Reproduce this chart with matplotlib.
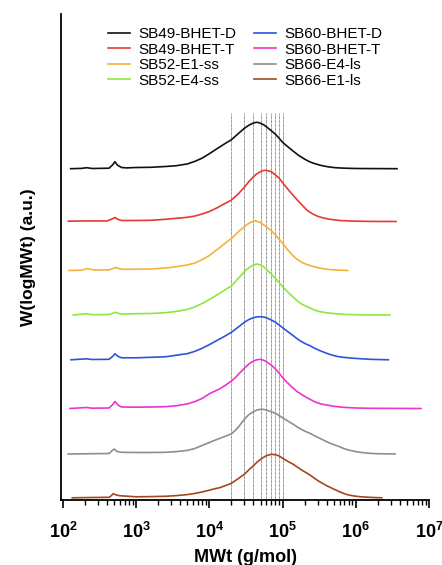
import numpy as np
import matplotlib
matplotlib.use("Agg")
import matplotlib.pyplot as plt
from matplotlib.ticker import LogLocator, FuncFormatter, NullFormatter

plt.rcParams.update({
    "font.family": ["Liberation Sans", "DejaVu Sans"],
    "mathtext.fontset": "custom",
    "mathtext.rm": "Liberation Sans",
    "mathtext.bf": "Liberation Sans:bold",
    "mathtext.it": "Liberation Sans:italic",
})

# ---- GPC traces: log10(MWt) and W(logMWt) in arbitrary units ----
labels = ["SB49-BHET-D", "SB49-BHET-T", "SB52-E1-ss", "SB52-E4-ss",
          "SB60-BHET-D", "SB60-BHET-T", "SB66-E4-ls", "SB66-E1-ls"]
colors = ["#111111", "#e43a34", "#f4b23a", "#8fe640",
          "#2d55d6", "#ee32cf", "#8e8e8e", "#a4461f"]

logmw_sb49_d = [2.105, 2.25, 2.324, 2.40, 2.63, 2.68, 2.71, 2.745, 2.80, 2.87, 3.0, 3.2, 3.4, 3.55,
                3.7, 3.8, 3.9, 4.0, 4.1, 4.2, 4.301, 4.40, 4.477, 4.54, 4.57, 4.602, 4.64, 4.67,
                4.699, 4.74, 4.778, 4.845, 4.903, 4.954, 5.0, 5.07, 5.146, 5.22, 5.30, 5.374,
                5.45, 5.53, 5.62, 5.72, 5.85, 6.0, 6.563]
w_sb49_d = [0.0, 0.3, 1.0, 0.2, 0.5, 4.0, 7.0, 3.5, 1.2, 0.8, 1.2, 1.4, 2.2, 3.0,
            4.8, 7.3, 10.5, 15.0, 19.8, 24.5, 29.0, 35.4, 40.4, 43.5, 44.6, 45.6, 46.4, 46.2,
            45.4, 44.0, 42.0, 38.0, 34.4, 30.4, 26.4, 22.0, 17.5, 13.3, 9.6, 6.8,
            4.8, 3.2, 1.9, 1.0, 0.5, 0.2, 0.0]

logmw_sb49_t = [2.072, 2.33, 2.60, 2.67, 2.71, 2.75, 2.80, 3.0, 3.2, 3.4, 3.55, 3.7, 3.8, 3.9,
                4.0, 4.1, 4.2, 4.301, 4.40, 4.477, 4.54, 4.602, 4.65, 4.699, 4.73, 4.76, 4.80,
                4.845, 4.903, 4.954, 5.0, 5.07, 5.146, 5.20, 5.26, 5.33, 5.40, 5.47, 5.55,
                5.65, 5.78, 5.95, 6.2, 6.549]
w_sb49_t = [0.3, 0.6, 0.5, 2.5, 4.0, 2.2, 1.0, 1.0, 1.2, 2.2, 3.2, 4.2, 5.4, 7.5,
            10.0, 13.5, 17.5, 21.5, 28.0, 34.2, 40.0, 44.8, 47.8, 49.8, 50.8, 51.2, 50.8,
            49.8, 46.5, 43.2, 38.8, 32.5, 26.0, 21.5, 17.0, 11.5, 8.0, 5.5, 3.6,
            2.2, 1.0, 0.4, 0.1, 0.0]

logmw_sb52_e1 = [2.082, 2.25, 2.34, 2.42, 2.63, 2.68, 2.72, 2.76, 2.82, 3.0, 3.2, 3.4, 3.55,
                 3.7, 3.8, 3.9, 4.0, 4.07, 4.14, 4.22, 4.301, 4.40, 4.477, 4.54, 4.602, 4.63,
                 4.699, 4.778, 4.845, 4.903, 4.954, 5.0, 5.07, 5.146, 5.20, 5.26, 5.32, 5.374,
                 5.44, 5.5, 5.56, 5.65, 5.75, 5.889]
w_sb52_e1 = [0.0, 0.3, 2.0, 0.5, 0.6, 2.0, 3.0, 2.0, 1.2, 1.3, 1.5, 2.5, 3.8,
             5.5, 7.5, 10.8, 15.0, 19.0, 22.8, 27.5, 32.0, 39.0, 43.8, 47.3, 49.5, 49.8,
             47.8, 43.8, 39.8, 35.5, 31.2, 27.2, 20.5, 14.5, 11.0, 8.3, 6.3, 5.0,
             3.6, 2.5, 1.7, 0.9, 0.4, 0.0]

logmw_sb52_e4 = [2.141, 2.32, 2.40, 2.63, 2.68, 2.71, 2.75, 2.80, 3.0, 3.2, 3.4, 3.55, 3.7,
                 3.8, 3.9, 4.0, 4.07, 4.14, 4.22, 4.301, 4.40, 4.477, 4.54, 4.602, 4.65,
                 4.699, 4.74, 4.778, 4.845, 4.903, 4.954, 5.0, 5.07, 5.146, 5.20, 5.26,
                 5.32, 5.374, 5.44, 5.5, 5.60, 5.72, 5.85, 6.05, 6.467]
w_sb52_e4 = [0.0, 1.3, 0.3, 0.5, 1.8, 2.7, 1.8, 0.8, 1.3, 1.5, 2.3, 3.6, 5.6,
             8.0, 11.5, 15.5, 18.5, 21.7, 25.5, 29.0, 37.0, 43.3, 47.3, 50.0, 51.0,
             50.0, 48.2, 45.7, 41.0, 36.7, 32.3, 28.3, 23.0, 17.7, 14.2, 11.0,
             8.8, 7.0, 4.8, 3.5, 2.2, 1.3, 0.6, 0.2, 0.0]

logmw_sb60_d = [2.109, 2.32, 2.40, 2.63, 2.68, 2.71, 2.75, 2.80, 3.0, 3.2, 3.4, 3.55, 3.7,
                3.8, 3.9, 4.0, 4.07, 4.14, 4.22, 4.301, 4.40, 4.477, 4.54, 4.602, 4.65,
                4.70, 4.74, 4.778, 4.845, 4.903, 4.954, 5.0, 5.07, 5.146, 5.20, 5.26,
                5.32, 5.374, 5.43, 5.49, 5.55, 5.602, 5.68, 5.75, 5.829, 5.94, 6.057,
                6.2, 6.444]
w_sb60_d = [0.0, 1.0, 0.3, 0.5, 3.5, 6.0, 3.5, 2.0, 2.0, 2.5, 3.0, 4.6, 6.2,
            8.4, 11.5, 15.2, 18.0, 20.8, 24.0, 27.5, 33.0, 37.5, 40.3, 42.1, 42.9,
            43.1, 42.8, 42.1, 39.8, 37.5, 34.8, 32.1, 28.2, 24.1, 21.0, 18.1,
            15.8, 14.1, 11.8, 9.8, 8.0, 6.5, 4.6, 3.3, 2.5, 1.7, 1.1,
            0.5, 0.0]

logmw_sb60_t = [2.096, 2.32, 2.40, 2.63, 2.68, 2.71, 2.75, 2.80, 3.0, 3.2, 3.4, 3.55, 3.7,
                3.8, 3.9, 4.0, 4.07, 4.14, 4.22, 4.301, 4.36, 4.40, 4.477, 4.54, 4.602,
                4.65, 4.699, 4.74, 4.778, 4.845, 4.903, 4.954, 5.0, 5.07, 5.146, 5.20,
                5.26, 5.32, 5.374, 5.45, 5.52, 5.602, 5.70, 5.829, 6.0, 6.2, 6.891]
w_sb60_t = [0.0, 1.0, 0.3, 0.5, 4.0, 7.0, 3.5, 1.5, 1.3, 1.5, 1.8, 2.8, 4.6,
            6.9, 10.0, 14.8, 17.2, 19.6, 23.3, 27.5, 31.3, 34.5, 40.2, 44.5, 47.5,
            48.8, 49.2, 48.3, 46.8, 43.5, 39.5, 35.2, 30.8, 25.5, 20.2, 16.8,
            14.0, 11.3, 9.2, 6.3, 4.6, 3.5, 2.2, 1.2, 0.5, 0.2, 0.0]

logmw_sb66_e4 = [2.072, 2.40, 2.63, 2.66, 2.697, 2.74, 2.80, 3.0, 3.2, 3.4, 3.55, 3.7, 3.8,
                 3.9, 4.0, 4.07, 4.14, 4.22, 4.301, 4.36, 4.40, 4.477, 4.54, 4.602, 4.65,
                 4.699, 4.74, 4.778, 4.845, 4.903, 4.954, 5.0, 5.07, 5.146, 5.20, 5.26,
                 5.32, 5.374, 5.43, 5.49, 5.55, 5.602, 5.66, 5.72, 5.78, 5.829, 5.9,
                 5.98, 6.057, 6.17, 6.28, 6.536]
w_sb66_e4 = [0.0, 0.3, 0.5, 2.5, 5.0, 2.5, 1.7, 1.5, 1.5, 1.7, 2.4, 3.6, 5.5,
             8.5, 11.5, 13.6, 15.6, 17.8, 20.2, 24.0, 27.3, 34.7, 39.5, 42.3, 44.0,
             44.7, 44.6, 44.0, 42.3, 40.7, 38.3, 36.3, 33.0, 29.7, 27.0, 24.5,
             22.3, 20.7, 18.5, 16.3, 14.2, 12.3, 10.5, 8.8, 7.2, 5.7, 4.0,
             2.7, 1.7, 0.8, 0.3, 0.0]

logmw_sb66_e1 = [2.127, 2.40, 2.63, 2.65, 2.687, 2.72, 2.77, 3.0, 3.2, 3.4, 3.55, 3.7, 3.78,
                 3.9, 4.008, 4.07, 4.14, 4.22, 4.301, 4.40, 4.477, 4.54, 4.602, 4.65, 4.699,
                 4.74, 4.778, 4.845, 4.903, 4.954, 5.0, 5.07, 5.146, 5.20, 5.26, 5.32,
                 5.374, 5.43, 5.49, 5.55, 5.602, 5.66, 5.72, 5.78, 5.829, 5.9, 5.98,
                 6.057, 6.2, 6.354]
w_sb66_e1 = [0.0, 0.3, 0.5, 1.5, 4.1, 3.0, 2.1, 1.0, 1.2, 1.5, 2.2, 3.2, 4.1,
             5.8, 7.8, 9.0, 10.1, 12.2, 14.5, 19.5, 23.5, 28.0, 32.1, 35.6, 38.5,
             40.5, 42.1, 43.5, 43.1, 41.8, 39.5, 36.5, 33.5, 30.8, 27.8, 25.2,
             22.8, 19.8, 16.8, 14.3, 12.1, 10.1, 8.0, 6.0, 4.5, 2.8, 1.8,
             1.1, 0.4, 0.0]

logmw_all = [logmw_sb49_d, logmw_sb49_t, logmw_sb52_e1, logmw_sb52_e4,
             logmw_sb60_d, logmw_sb60_t, logmw_sb66_e4, logmw_sb66_e1]
w_all = [w_sb49_d, w_sb49_t, w_sb52_e1, w_sb52_e4,
         w_sb60_d, w_sb60_t, w_sb66_e4, w_sb66_e1]

# vertical stacking offset of each trace (a.u.)
offsets = [331.3, 278.5, 229.5, 185.0, 140.2, 91.5, 46.0, 2.2]

# reference molecular weights marked with dotted lines (g/mol)
ref_mw = [2e4, 3e4, 4e4, 5e4, 6e4, 7e4, 8e4, 9e4, 1e5]

fig = plt.figure(figsize=(4.42, 5.65), dpi=100)
ax = fig.add_axes([61 / 442, 65 / 565, 368 / 442, 486 / 565])

ax.vlines(ref_mw, 0, 387, colors="#444444", linestyles=(0, (0.8, 0.8)), lw=0.6, zorder=1)

for lg, w, off, c, lab in zip(logmw_all, w_all, offsets, colors, labels):
    ax.plot(10 ** np.asarray(lg), np.asarray(w) + off, color=c, lw=1.2, label=lab,
            solid_joinstyle="round", zorder=2)

ax.set_xscale("log")
ax.set_xlim(10 ** 1.973, 1e7)
ax.set_ylim(0, 486)

ax.xaxis.set_major_locator(LogLocator(base=10, numticks=10))
ax.xaxis.set_minor_locator(LogLocator(base=10, subs=np.arange(2, 10), numticks=20))
ax.xaxis.set_major_formatter(FuncFormatter(lambda v, p: r"$\mathbf{10^{%d}}$" % round(np.log10(v))))
ax.xaxis.set_minor_formatter(NullFormatter())
ax.tick_params(axis="x", which="major", direction="out", length=6, width=1.2,
               labelsize=13, pad=10)
ax.tick_params(axis="x", which="minor", direction="out", length=3.3, width=1.0)
ax.set_yticks([])

for s in ("top", "right"):
    ax.spines[s].set_visible(False)
for s in ("left", "bottom"):
    ax.spines[s].set_linewidth(1.3)

ax.set_xlabel("MWt (g/mol)", fontsize=13, fontweight="bold", labelpad=5)
ax.set_ylabel("W(logMWt) (a.u.)", fontsize=12.5, fontweight="bold", labelpad=18)

ax.legend(ncol=2, loc="upper left", bbox_to_anchor=(108 / 442, 1 - 27 / 565),
          bbox_transform=fig.transFigure, frameon=False, fontsize=11,
          handlelength=1.45, handletextpad=0.55, columnspacing=1.15,
          labelspacing=0.1, borderpad=0, borderaxespad=0)

fig.savefig("out.png", dpi=100)
